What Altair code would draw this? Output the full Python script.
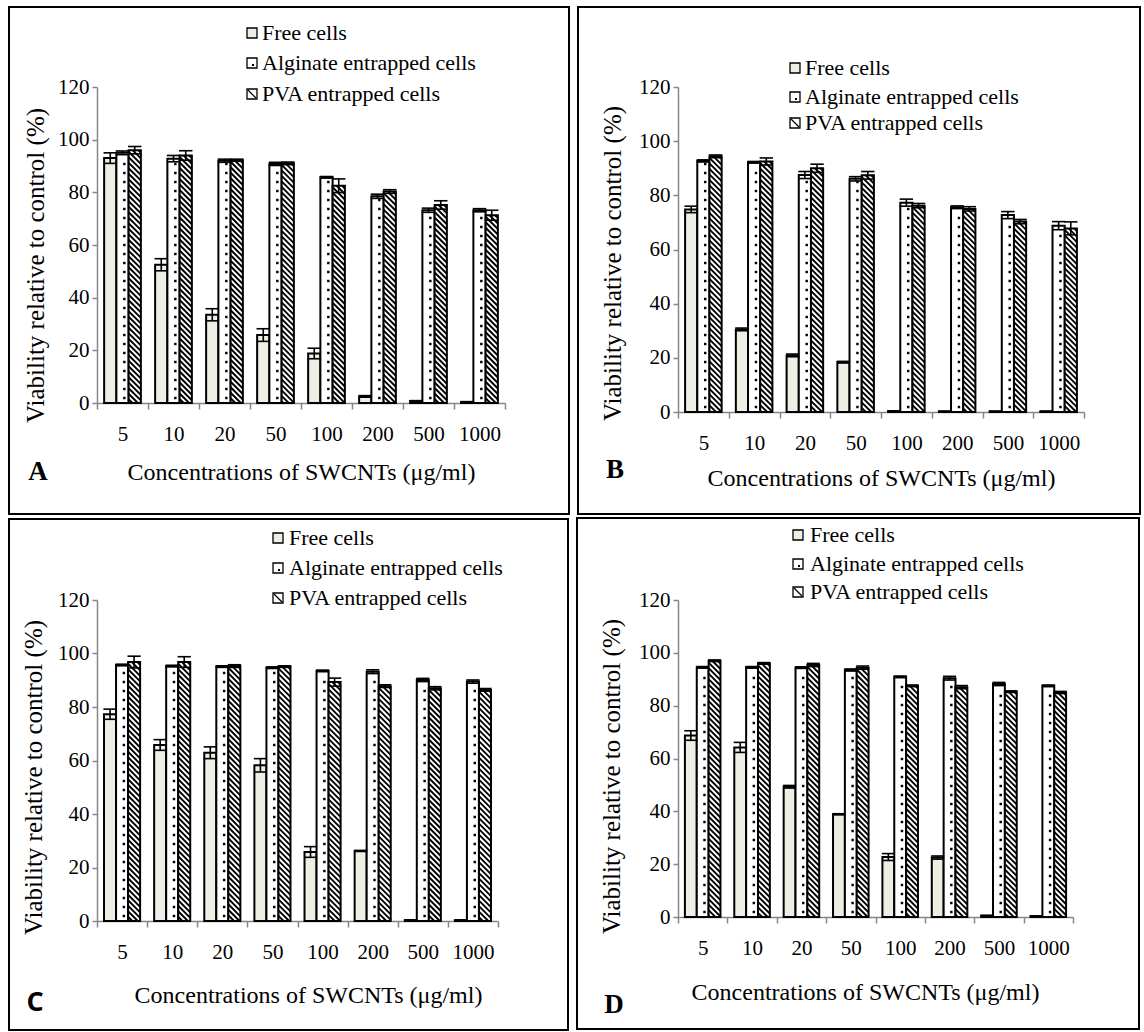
import altair as alt
import pandas as pd

# ---- data -------------------------------------------------------------
CONC = ["5", "10", "20", "50", "100", "200", "500", "1000"]
SERIES = ["Free cells", "Alginate entrapped cells", "PVA entrapped cells"]

# Panel A
A_FREE = [93.0, 52.5, 33.5, 25.8, 18.8, 2.5, 0.8, 0.4]
A_FREE_ERR = [2.0, 2.3, 2.3, 2.4, 2.0, 0.3, 0.1, 0.1]
A_ALG = [95.0, 92.8, 92.0, 90.8, 85.7, 78.5, 73.2, 73.2]
A_ALG_ERR = [0.7, 1.2, 0.6, 0.6, 0.3, 0.8, 0.8, 0.6]
A_PVA = [96.0, 94.0, 92.2, 91.0, 82.5, 80.3, 75.2, 71.3]
A_PVA_ERR = [1.4, 1.8, 0.4, 0.5, 2.6, 0.7, 1.6, 1.9]

# Panel B
B_FREE = [74.8, 30.5, 20.9, 18.4, 0.3, 0.2, 0.2, 0.2]
B_FREE_ERR = [1.2, 0.5, 0.5, 0.3, 0.1, 0.1, 0.1, 0.1]
B_ALG = [92.7, 92.2, 87.5, 86.1, 77.3, 75.6, 72.7, 68.8]
B_ALG_ERR = [0.4, 0.3, 1.3, 0.8, 1.3, 0.5, 1.3, 1.5]
B_PVA = [94.4, 92.5, 90.0, 87.4, 76.2, 75.0, 70.3, 67.8]
B_PVA_ERR = [0.5, 1.3, 1.5, 1.4, 0.8, 0.8, 0.8, 2.4]

# Panel C
C_FREE = [77.3, 65.8, 62.9, 58.2, 25.8, 26.2, 0.3, 0.3]
C_FREE_ERR = [1.9, 2.0, 2.2, 2.5, 2.0, 0.2, 0.1, 0.1]
C_ALG = [95.7, 95.3, 95.1, 94.7, 93.5, 93.2, 90.1, 89.5]
C_ALG_ERR = [0.3, 0.3, 0.3, 0.3, 0.3, 0.7, 0.6, 0.6]
C_PVA = [96.8, 96.8, 95.3, 95.1, 89.3, 87.8, 87.0, 86.4]
C_PVA_ERR = [2.2, 2.0, 0.5, 0.3, 1.5, 0.5, 0.6, 0.5]

# Panel D
D_FREE = [68.7, 64.2, 49.3, 38.9, 22.7, 22.5, 0.5, 0.3]
D_FREE_ERR = [1.8, 1.9, 0.5, 0.2, 1.3, 0.6, 0.1, 0.1]
D_ALG = [94.5, 94.5, 94.4, 93.5, 90.9, 90.4, 88.2, 87.5]
D_ALG_ERR = [0.3, 0.3, 0.3, 0.4, 0.3, 0.7, 0.6, 0.3]
D_PVA = [97.0, 96.0, 95.4, 94.4, 87.5, 87.0, 85.3, 85.0]
D_PVA_ERR = [0.3, 0.3, 0.6, 0.6, 0.3, 0.6, 0.3, 0.4]

PANEL_VALUES = {
    "A": [(A_FREE, A_FREE_ERR), (A_ALG, A_ALG_ERR), (A_PVA, A_PVA_ERR)],
    "B": [(B_FREE, B_FREE_ERR), (B_ALG, B_ALG_ERR), (B_PVA, B_PVA_ERR)],
    "C": [(C_FREE, C_FREE_ERR), (C_ALG, C_ALG_ERR), (C_PVA, C_PVA_ERR)],
    "D": [(D_FREE, D_FREE_ERR), (D_ALG, D_ALG_ERR), (D_PVA, D_PVA_ERR)],
}

# ---- styling / layout ---------------------------------------------------
SERIF = "'Liberation Serif', 'Times New Roman', 'DejaVu Serif', serif"
SANS_BOLD = "'Open Sans', 'Liberation Sans', sans-serif"
FREE_FILL = "#EEEEE4"
AXIS_GRAY = "#868686"
BAR_W = 0.24          # bar width, in category units
Y_MAX = 120

PANELS = [
    dict(key="A", W=408, H=316, border=(-88, -80, 472, 427),
         legend=(150, 165, [-54, -24, 7]), letter=(-59, 385, SERIF),
         xt=(204, 69), yt=(-62, 178)),
    dict(key="B", W=406, H=325, border=(-100, -80, 462, 427),
         legend=(112, 127, [-19, 10, 36]), letter=(-63, 383, SERIF),
         xt=(203, 66), yt=(-66, 176)),
    dict(key="C", W=401, H=321, border=(-88, -81, 471, 430),
         legend=(176, 192, [-62, -32, -2]), letter=(-62, 403, SANS_BOLD),
         xt=(211, 74), yt=(-64, 177)),
    dict(key="D", W=395, H=317, border=(-101, -82, 461, 429),
         legend=(115, 132, [-65, -36, -8]), letter=(-64, 405, SERIF),
         xt=(187, 75), yt=(-67, 176)),
]

# one-row table for the frame, legend and panel letter
ONE = pd.DataFrame({"k": [0]})


def bar_table(values):
    rows = []
    for gi, conc in enumerate(CONC):
        for si, name in enumerate(SERIES):
            v = values[si][0][gi]
            e = values[si][1][gi]
            x0 = gi - 1.5 * BAR_W + si * BAR_W
            rows.append(dict(conc=conc, series=name, x0=x0, x1=x0 + BAR_W,
                             xc=x0 + BAR_W / 2, v=v, base=0.0,
                             lo=v - e, hi=v + e))
    return pd.DataFrame(rows)


def hatch_table(bars, W, H, period=5.5):
    """Backslash hatching clipped to each PVA bar (computed in pixel space)."""
    sx, sy = W / 8.0, H / Y_MAX
    rows = []
    for _, b in bars[bars.series == SERIES[2]].iterrows():
        wp = BAR_W * sx
        hp = b.v * sy
        c = -wp + period / 2
        while c < hp:
            xs, xe = max(0.0, -c), min(wp, hp - c)
            if xe > xs:
                rows.append(dict(ax=b.x0 + xs / sx, ay=b.v - (xs + c) / sy,
                                 bx=b.x0 + xe / sx, by=b.v - (xe + c) / sy))
            c += period
    return pd.DataFrame(rows)


def dot_table(bars, W, H, step=9.0):
    """Dotted fill for the alginate bars."""
    sx, sy = W / 8.0, H / Y_MAX
    rows = []
    for _, b in bars[bars.series == SERIES[1]].iterrows():
        hp = b.v * sy
        yp = 5.0
        while yp < hp - 3:
            rows.append(dict(dx=b.x0 + 0.65 * BAR_W, dy=yp / sy))
            yp += step
    return pd.DataFrame(rows)


def make_panel(p):
    W, H = p["W"], p["H"]
    bars = bar_table(PANEL_VALUES[p["key"]])
    hatch = hatch_table(bars, W, H)
    dots = dot_table(bars, W, H)

    label_list = "[" + ",".join(f"'{c}'" for c in CONC) + "]"
    x_scale = alt.Scale(domain=[-0.5, len(CONC) - 0.5], nice=False, zero=False)
    y_scale = alt.Scale(domain=[0, Y_MAX], nice=False)
    x_axis = alt.Axis(
        values=[i - 0.5 for i in range(len(CONC) + 1)],
        labelExpr=f"datum.value < {len(CONC) - 1} ? {label_list}[datum.value + 0.5] : ''",
        labelOffset=W / 16.0, labelFlush=False, labelOverlap=False,
        grid=False, domainColor=AXIS_GRAY, domainWidth=1.5,
        tickColor=AXIS_GRAY, tickWidth=1.5, tickSize=6,
        labelFont=SERIF, labelFontSize=21, labelColor="black", labelPadding=14,
        title="Concentrations of SWCNTs (μg/ml)", titleFont=SERIF,
        titleFontSize=24, titleFontWeight="normal", titleColor="black",
        titleX=p["xt"][0], titleY=p["xt"][1], titleAlign="center",
        titleBaseline="middle", titleAngle=0,
    )
    y_axis = alt.Axis(
        values=list(range(0, Y_MAX + 1, 20)), grid=False,
        domainColor=AXIS_GRAY, domainWidth=1.5, tickColor=AXIS_GRAY,
        tickWidth=1.5, tickSize=5, labelFont=SERIF, labelFontSize=21,
        labelColor="black", labelPadding=3,
        title="Viability relative to control (%)", titleFont=SERIF,
        titleFontSize=25, titleFontWeight="normal", titleColor="black",
        titleX=p["yt"][0], titleY=p["yt"][1], titleAngle=270,
        titleAlign="center", titleBaseline="middle",
    )

    def X(field):
        return alt.X(f"{field}:Q", scale=x_scale, axis=x_axis)

    def Y(field):
        return alt.Y(f"{field}:Q", scale=y_scale, axis=y_axis)

    bar_layer = alt.Chart(bars).mark_rect(stroke="black", strokeWidth=2).encode(
        x=X("x0"), x2="x1", y=Y("v"), y2="base",
        fill=alt.Fill("series:N", scale=alt.Scale(
            domain=SERIES, range=[FREE_FILL, "white", "white"]), legend=None),
    )
    hatch_layer = alt.Chart(hatch).mark_rule(color="black", strokeWidth=1.9).encode(
        x=X("ax"), x2="bx", y=Y("ay"), y2="by")
    dot_layer = alt.Chart(dots).mark_square(size=6, color="black", opacity=1).encode(
        x=X("dx"), y=Y("dy"))
    err_v = alt.Chart(bars).mark_rule(color="black", strokeWidth=1.6).encode(
        x=X("xc"), y=Y("lo"), y2="hi")
    cap_df = bars.assign(cl=bars.xc - BAR_W * 0.55, cr=bars.xc + BAR_W * 0.55)
    cap_lo = alt.Chart(cap_df).mark_rule(color="black", strokeWidth=1.6).encode(
        x=X("cl"), x2="cr", y=Y("lo"))
    cap_hi = alt.Chart(cap_df).mark_rule(color="black", strokeWidth=1.6).encode(
        x=X("cl"), x2="cr", y=Y("hi"))

    # panel frame
    bl, bt, br, bb = p["border"]
    frame = alt.Chart(ONE).mark_rect(
        fillOpacity=0, stroke="black", strokeWidth=2).encode(
        x=alt.value(bl), x2=alt.value(br), y=alt.value(bt), y2=alt.value(bb))

    # legend
    lx, tx, rows_y = p["legend"]
    legend_layers = []
    fills = [FREE_FILL, "white", "white"]
    for i, name in enumerate(SERIES):
        cy = rows_y[i]
        legend_layers.append(
            alt.Chart(ONE).mark_rect(fill=fills[i], stroke="black", strokeWidth=1.3).encode(
                x=alt.value(lx), x2=alt.value(lx + 10),
                y=alt.value(cy - 5), y2=alt.value(cy + 5)))
        if i == 1:
            legend_layers.append(
                alt.Chart(ONE).mark_rect(fill="black").encode(
                    x=alt.value(lx + 5), x2=alt.value(lx + 7),
                    y=alt.value(cy + 1), y2=alt.value(cy + 3)))
        if i == 2:
            legend_layers.append(
                alt.Chart(ONE).mark_rule(color="black", strokeWidth=1.2).encode(
                    x=alt.value(lx + 1), x2=alt.value(lx + 9),
                    y=alt.value(cy - 4), y2=alt.value(cy + 4)))
        legend_layers.append(
            alt.Chart(ONE).mark_text(text=name, align="left", baseline="middle",
                                     font=SERIF, fontSize=22, color="black").encode(
                x=alt.value(tx), y=alt.value(cy)))

    lx_, ly_, lfont = p["letter"]
    letter = alt.Chart(ONE).mark_text(
        text=p["key"], font=lfont, fontSize=27, fontWeight="bold",
        align="center", baseline="middle", color="black").encode(
        x=alt.value(lx_), y=alt.value(ly_))

    return alt.layer(bar_layer, hatch_layer, dot_layer, err_v, cap_lo, cap_hi,
                     frame, letter, *legend_layers).properties(width=W, height=H)


panels = [make_panel(p) for p in PANELS]
row1 = alt.hconcat(panels[0], panels[1], spacing=7)
row2 = alt.hconcat(panels[2], panels[3], spacing=7)
chart = alt.vconcat(row1, row2, spacing=2).properties(
    padding={"left": 8, "top": 6, "right": 0, "bottom": 0},
    background="white",
).configure(
    font=SERIF,
).configure_axis(
    labelFont=SERIF, titleFont=SERIF,
).configure_view(strokeWidth=0)

chart.save("out.html", embed_options={"renderer": "svg", "actions": False})
